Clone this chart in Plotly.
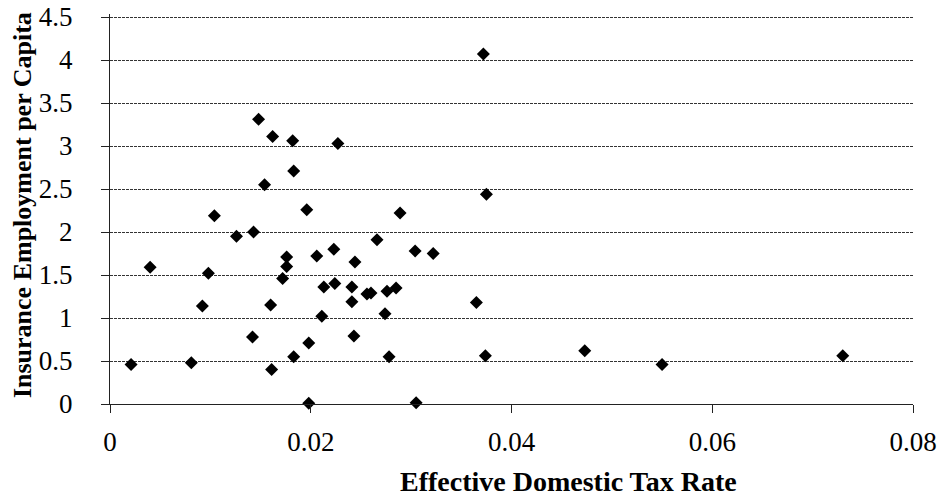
import plotly.graph_objects as go

tax_rate = [0.0148, 0.0162, 0.0182, 0.0227, 0.0183, 0.0154, 0.0196, 0.0104, 0.0289,
            0.0126, 0.0143, 0.0040, 0.0098, 0.0176, 0.0176, 0.0172, 0.0206, 0.0223,
            0.0244, 0.0266, 0.0304, 0.0322, 0.0213, 0.0224, 0.0241, 0.0241, 0.0256,
            0.0260, 0.0276, 0.0285, 0.0092, 0.0160, 0.0211, 0.0274, 0.0142, 0.0198,
            0.0243, 0.0021, 0.0081, 0.0183, 0.0161, 0.0278, 0.0198, 0.0305, 0.0372,
            0.0375, 0.0365, 0.0374, 0.0473, 0.0550, 0.0730]
employment = [3.31, 3.11, 3.06, 3.03, 2.71, 2.55, 2.26, 2.19, 2.22,
              1.95, 2.00, 1.59, 1.52, 1.71, 1.60, 1.46, 1.72, 1.80,
              1.65, 1.91, 1.78, 1.75, 1.36, 1.40, 1.36, 1.19, 1.28,
              1.29, 1.31, 1.35, 1.14, 1.15, 1.02, 1.05, 0.78, 0.71,
              0.79, 0.46, 0.48, 0.55, 0.40, 0.55, 0.01, 0.015, 4.07,
              2.44, 1.18, 0.56, 0.62, 0.46, 0.56]

x_ticks = [0, 0.02, 0.04, 0.06, 0.08]
x_tick_labels = ["0", "0.02", "0.04", "0.06", "0.08"]
y_ticks = [0, 0.5, 1, 1.5, 2, 2.5, 3, 3.5, 4, 4.5]
y_tick_labels = ["0", "0.5", "1", "1.5", "2", "2.5", "3", "3.5", "4", "4.5"]

serif = "Liberation Serif, Times New Roman, serif"

fig = go.Figure()
fig.add_trace(go.Scatter(
    x=tax_rate, y=employment, mode="markers",
    marker=dict(symbol="diamond", size=10, color="black"),
    cliponaxis=False, showlegend=False,
))

fig.update_layout(
    width=951, height=499,
    margin=dict(l=110, r=38, t=14, b=95),
    paper_bgcolor="white", plot_bgcolor="white",
    font=dict(family=serif, color="black"),
    xaxis=dict(
        range=[0, 0.08], tickvals=x_ticks, ticktext=x_tick_labels,
        showgrid=False, zeroline=False, showline=True, linecolor="#222", linewidth=1,
        ticks="outside", ticklen=8, tickcolor="#222",
        tickfont=dict(size=27, family=serif), ticklabelstandoff=6,
        ticklabeloverflow="allow", automargin=False,
    ),
    yaxis=dict(
        range=[0, 4.535], tickvals=y_ticks, ticktext=y_tick_labels,
        showgrid=True, gridcolor="#333", gridwidth=1, griddash="3px,1px",
        zeroline=False, showline=True, linecolor="#222", linewidth=1,
        ticks="outside", ticklen=8, tickcolor="#222",
        tickfont=dict(size=27, family=serif), ticklabelstandoff=23,
        ticklabeloverflow="allow", automargin=False,
    ),
    annotations=[
        dict(text="<b>Effective Domestic Tax Rate</b>", xref="paper", yref="paper",
             x=0.5716, y=-0.2436, xanchor="center", yanchor="bottom", showarrow=False,
             font=dict(size=28, family=serif)),
        dict(text="<b>Insurance Employment per Capita</b>", xref="paper", yref="paper",
             x=-0.1096, y=0.51, xanchor="center", yanchor="middle", textangle=-90,
             showarrow=False, font=dict(size=26, family=serif)),
    ],
)

fig.write_html(
    "out.html",
    config={"displayModeBar": False},
    post_script="document.body.style.margin='0';document.body.style.overflow='hidden';",
)
